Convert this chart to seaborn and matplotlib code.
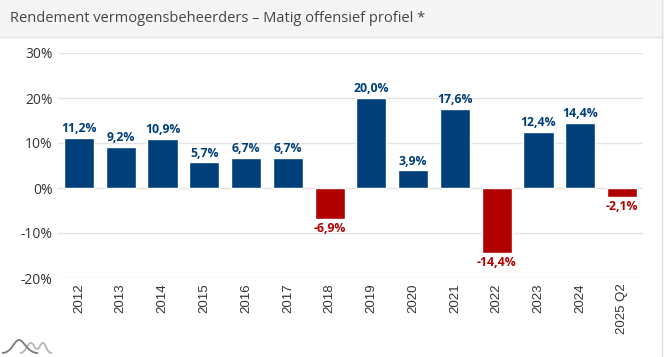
import numpy as np
import pandas as pd
import matplotlib
matplotlib.use("Agg")
import matplotlib.pyplot as plt
import seaborn as sns
from matplotlib.patches import Rectangle, PathPatch
from matplotlib.path import Path
from matplotlib.lines import Line2D

# ================= 数据 =================
years = ['2012', '2013', '2014', '2015', '2016', '2017', '2018', '2019',
         '2020', '2021', '2022', '2023', '2024', '2025 Q2']
returns = [11.2, 9.2, 10.9, 5.7, 6.7, 6.7, -6.9, 20.0, 3.9, 17.6, -14.4, 12.4, 14.4, -2.1]
title = 'Rendement vermogensbeheerders – Matig offensief profiel *'

BLUE = '#003f7a'
RED = '#b00000'

sns.set_theme(style='white')
plt.rcParams['font.family'] = ['Open Sans', 'DejaVu Sans']

df = pd.DataFrame({'year': years, 'ret': returns})
df['sign'] = np.where(df['ret'] >= 0, 'pos', 'neg')

W, H = 664, 357
fig = plt.figure(figsize=(W / 100, H / 100), dpi=100)

# titelbalk
fig.patches.append(Rectangle((0, 1 - 37 / H), 1, 37 / H, transform=fig.transFigure,
                             facecolor='#f5f5f5', edgecolor='none', zorder=0))
fig.lines.append(Line2D([0, 1], [1 - 37 / H] * 2, transform=fig.transFigure,
                        color='#e2e2e2', lw=1))
fig.lines.append(Line2D([0.997, 0.997], [0, 1], transform=fig.transFigure,
                        color='#e2e2e2', lw=1))
fig.text(10 / W, 1 - 18 / H, title, fontsize=10.5, color='#444444', va='center', ha='left')

# logo linksonder (pixelcoördinaten -> figuurcoördinaten)
def px(x, y):
    return (x / W, 1 - y / H)

logo_dark = Path([px(2, 353), px(12, 353), px(14, 340), px(19, 340), px(24, 340), px(27, 353), px(38, 353)],
                 [Path.MOVETO, Path.CURVE4, Path.CURVE4, Path.CURVE4, Path.CURVE4, Path.CURVE4, Path.CURVE4])
logo_light = Path([px(20, 353), px(26, 353), px(27, 343), px(31, 343), px(34, 343), px(34, 349), px(37, 349),
                   px(40, 349), px(40, 343), px(43, 343), px(46, 343), px(46, 353), px(52, 353)],
                  [Path.MOVETO, Path.CURVE4, Path.CURVE4, Path.CURVE4, Path.CURVE4, Path.CURVE4, Path.CURVE4,
                   Path.CURVE4, Path.CURVE4, Path.CURVE4, Path.CURVE4, Path.CURVE4, Path.CURVE4])
fig.patches.append(PathPatch(logo_light, transform=fig.transFigure, fill=False, edgecolor='#b5b5b5', lw=1.3))
fig.patches.append(PathPatch(logo_dark, transform=fig.transFigure, fill=False, edgecolor='#7a7a7a', lw=1.3))

ax = fig.add_axes([58 / W, 1 - 278 / H, (643 - 58) / W, (278 - 53) / H])
sns.barplot(data=df, x='year', y='ret', hue='sign', palette={'pos': BLUE, 'neg': RED},
            dodge=False, width=0.72, legend=False, ax=ax, saturation=1)

for i, v in enumerate(returns):
    lab = f'{v:.1f}%'.replace('.', ',')
    col = BLUE if v >= 0 else RED
    if v >= 0:
        ax.annotate(lab, (i, v), xytext=(0, 2), textcoords='offset points',
                    ha='center', va='bottom', fontsize=8.8, fontweight='bold', color=col)
    else:
        ax.annotate(lab, (i, v), xytext=(0, -2), textcoords='offset points',
                    ha='center', va='top', fontsize=8.8, fontweight='bold', color=col)

ax.set_ylim(-20, 30)
ax.set_xlim(-0.5, 13.5)
ax.set_yticks([-20, -10, 0, 10, 20, 30])
ax.set_yticklabels([f'{t}%' for t in [-20, -10, 0, 10, 20, 30]])
ax.yaxis.grid(True, color='#e4e4e4', lw=1)
ax.set_axisbelow(True)
for s in ax.spines.values():
    s.set_visible(False)
ax.tick_params(axis='y', length=0, labelsize=10, colors='#333333', pad=4)
ax.tick_params(axis='x', length=0, labelsize=9.5, colors='#333333', pad=4)
ax.set_xticks(range(len(years)))
ax.set_xticklabels(years, rotation=90, family=['Liberation Sans', 'DejaVu Sans'])
ax.set_xlabel('')
ax.set_ylabel('')

fig.savefig('out.png', dpi=100)
